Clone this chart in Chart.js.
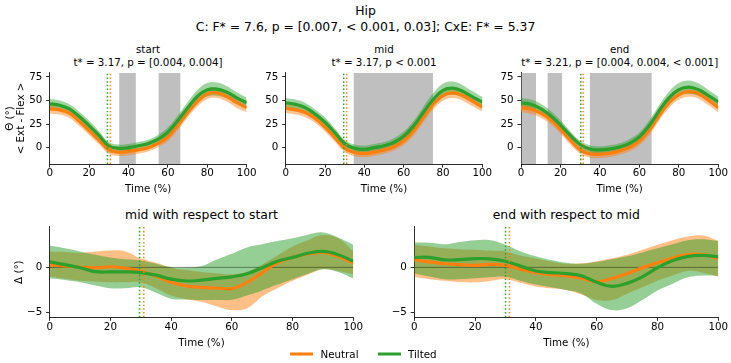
<!DOCTYPE html>
<html>
<head>
<meta charset="utf-8">
<script src="https://cdn.jsdelivr.net/npm/chart.js@4.4.1/dist/chart.umd.min.js"></script>
<style>
  body { margin: 0; width: 731px; height: 363px; background: #fff; position: relative; overflow: hidden;
         font-family: "DejaVu Sans", sans-serif; color: #000; }
  canvas { position: absolute; }
  .txt { position: absolute; white-space: nowrap; transform: translate(-50%, -50%); line-height: 1; }
  .leg { position: absolute; top: 354px; height: 3px; width: 23px; transform: translateY(-50%); }
  .legtxt { position: absolute; top: 354px; transform: translateY(-50%); font-size: 10.3px; line-height: 1; }
</style>
</head>
<body>
<div class="txt" style="left:365.5px;top:11px;font-size:12.4px">Hip</div>
<div class="txt" style="left:365.5px;top:27px;font-size:12.4px">C: F* = 7.6, p = [0.007, &lt; 0.001, 0.03]; CxE: F* = 5.37</div>

<div class="txt" style="left:148px;top:49px;font-size:10.3px">start</div>
<div class="txt" style="left:148px;top:62px;font-size:10.3px">t* = 3.17, p = [0.004, 0.004]</div>
<div class="txt" style="left:384px;top:49px;font-size:10.3px">mid</div>
<div class="txt" style="left:384px;top:62px;font-size:10.3px">t* = 3.17, p &lt; 0.001</div>
<div class="txt" style="left:619.7px;top:49px;font-size:10.3px">end</div>
<div class="txt" style="left:619.7px;top:62px;font-size:10.3px">t* = 3.21, p = [0.004, 0.004, &lt; 0.001]</div>

<div class="txt" style="left:201.5px;top:215px;font-size:12.4px">mid with respect to start</div>
<div class="txt" style="left:566.3px;top:215px;font-size:12.4px">end with respect to mid</div>

<canvas id="pStart"></canvas>
<canvas id="pMid"></canvas>
<canvas id="pEnd"></canvas>
<canvas id="pMidStart"></canvas>
<canvas id="pEndMid"></canvas>

<div class="leg" style="left:290px;background:#ff7f0e"></div>
<div class="legtxt" style="left:320.5px">Neutral</div>
<div class="leg" style="left:378px;background:#2ca02c"></div>
<div class="legtxt" style="left:408px">Tilted</div>

<script>
// time axis (% of cycle)
const time = [0, 5, 10, 15, 20, 25, 30, 35, 40, 45, 50, 55, 60, 65, 70, 75, 80, 85, 90, 95, 100];
const xTicks = [0, 20, 40, 60, 80, 100];
const angleTicks = [0, 25, 50, 75];
const deltaTicks = [-5, 0];

// joint angle, mean per condition
const neutralStart = [41, 40, 36.5, 28, 18, 8, -2.4, -4.8, -4, -2.4, 0, 4.5, 11.4, 23.4, 37, 49, 57, 58, 54, 47.6, 42.4];
const tiltedStart = [46.5, 45, 41, 33, 23.4, 13, 2, -0.7, 0, 2, 4.5, 9, 16.5, 28.6, 42, 54.5, 61.4, 62, 58.6, 52.7, 47.6];
const neutralMid = [41.7, 40, 37.2, 31, 21.7, 10.7, -0.7, -5.2, -6.2, -4.8, -2.4, 1, 7.2, 17.6, 31.7, 45.9, 55.2, 58, 55.2, 49.3, 43];
const tiltedMid = [47.6, 45.9, 42.4, 35.5, 26.9, 15.9, 4.5, -0.7, -1.7, 0, 2, 5.5, 12, 22.8, 37.2, 51, 60.7, 63, 59.7, 53.8, 48.3];
const neutralEnd = [42.4, 40.7, 36.6, 29.7, 19.3, 7.9, -2.4, -6.6, -6.9, -5.9, -3.4, 0.3, 6.9, 18.3, 33.8, 47.6, 56.2, 59.3, 57.2, 50.3, 42.4];
const tiltedEnd = [47.6, 45.9, 41.4, 33.8, 24, 13, 3.4, -1.4, -2.4, -1.4, 0.7, 4.5, 11.4, 23.4, 39, 52.8, 61.4, 64.1, 61.4, 55.2, 48.6];
// spread (sd) per condition
const neutralSd = [5, 5, 5, 5, 4.5, 4.5, 4, 4, 4, 4, 4, 4, 4.5, 5, 5, 5.5, 5.5, 5.5, 5.5, 5.5, 5];
const tiltedSd = [5, 5, 5, 5, 5, 4.5, 4, 4, 4, 4, 4, 4.5, 5, 5.5, 6, 6.5, 7, 7, 6.5, 6, 5.5];

// differences between phases, with bands
const neutralMS = [0.28, 0.15, 0.04, -0.04, 0.07, -0.1, -0.4, -0.94, -1.65, -2.05, -2.2, -2.27, -2.34, -1.65, -0.57, 0.5, 1.1, 1.47, 1.65, 1.22, 0.45];
const neutralMSUp = [1.76, 1.7, 1.6, 1.75, 1.87, 1.76, 0.97, 0.5, -0.04, -0.3, -0.5, -0.65, -0.75, -0.47, 0.32, 1.3, 2.3, 3.0, 3.56, 3.2, 1.76];
const neutralMSLo = [-1.04, -1.25, -1.47, -1.55, -1.65, -1.65, -1.65, -2.3, -3.1, -3.5, -3.8, -4.3, -4.7, -4.5, -3.2, -2.3, -1.47, -0.8, -0.2, -0.4, -0.75];
const tiltedMS = [0.61, 0.3, -0.04, -0.47, -0.5, -0.5, -0.57, -0.86, -1.3, -1.5, -1.4, -1.22, -1.04, -0.7, -0.04, 0.68, 1.1, 1.55, 1.76, 1.4, 0.68];
const tiltedMSUp = [2.4, 2.1, 1.76, 1.4, 1.1, 0.9, 0.75, 0.4, 0.03, 0.0, 0.14, 0.86, 1.5, 2.2, 2.55, 2.9, 3.2, 3.6, 3.85, 3.3, 2.5];
const tiltedMSLo = [-1.2, -1.4, -1.65, -2.0, -2.3, -2.3, -2.2, -2.8, -3.45, -3.55, -3.6, -3.6, -3.56, -3.1, -2.55, -1.9, -1.3, -0.7, -0.2, -0.5, -1.22];

const neutralEM = [0.83, 0.6, 0.4, 0.3, 0.22, 0.32, 0.22, -0.22, -0.58, -0.8, -0.94, -1.2, -1.58, -1.22, -0.68, -0.04, 0.5, 1.04, 1.4, 1.4, 0.97];
const neutralEMUp = [2.5, 2.3, 2.1, 2.0, 1.95, 1.85, 1.76, 1.3, 0.97, 0.65, 0.4, 0.45, 0.68, 1.0, 1.4, 1.95, 2.5, 3.0, 3.4, 3.5, 2.9];
const neutralEMLo = [-1.04, -1.3, -1.47, -1.6, -1.65, -1.5, -1.3, -1.7, -2.1, -2.3, -2.5, -3.0, -3.6, -3.6, -2.9, -2.2, -1.47, -0.9, -0.4, -0.6, -1.04];
const tiltedEM = [1.1, 1.1, 0.83, 0.86, 0.97, 0.94, 0.68, 0.14, -0.4, -0.58, -0.68, -0.94, -1.65, -2.1, -1.76, -1.04, -0.04, 0.75, 1.22, 1.33, 1.15];
const tiltedEMUp = [2.73, 2.7, 2.55, 2.8, 3.0, 3.0, 2.5, 1.76, 1.22, 0.8, 0.5, 0.4, 0.58, 0.9, 1.22, 1.65, 2.1, 2.55, 3.0, 3.1, 2.9];
const tiltedEMLo = [-0.68, -1.0, -1.3, -1.3, -1.2, -1.1, -1.04, -1.5, -1.9, -2.2, -2.5, -2.9, -4.0, -4.7, -4.5, -3.6, -2.55, -1.8, -1.1, -0.9, -0.94];

// event onsets (% of cycle), per panel: start, mid, end, mid-start, end-mid
const neutralOnset = [30.8, 31, 31.5, 31, 31.3];
const tiltedOnset = [29.3, 29.5, 30.3, 29.6, 30];

// significant clusters
const clustersStart = [[35.3, 43.7], [55.3, 66.3]];
const clustersMid = [[34.6, 74.9]];
const clustersEnd = [[0, 7.6], [13.5, 20.8], [34.9, 66.2]];

const NEUTRAL = '#ff7f0e';
const TILTED = '#2ca02c';

Chart.defaults.font.family = '"DejaVu Sans", sans-serif';
Chart.defaults.font.size = 10.3;
Chart.defaults.color = '#000';

const pts = ys => time.map((x, i) => ({ x, y: ys[i] }));

function band(lo, hi, color, order) {
  return [
    { data: pts(hi), borderWidth: 0, pointRadius: 0, fill: false, order },
    { data: pts(lo), borderWidth: 0, pointRadius: 0, fill: '-1', backgroundColor: color, order },
  ];
}
const meanLine = (ys, color, order) => ({ data: pts(ys), borderColor: color, borderWidth: 3.2, pointRadius: 0, fill: false, order });
const onsetLine = (x, yMin, yMax, color) => ({
  data: [{ x, y: yMin }, { x, y: yMax }], borderColor: color, borderWidth: 1.5,
  borderDash: [1.5, 2.2], pointRadius: 0, fill: false, order: 0,
});

const clusterPlugin = {
  id: 'clusters',
  beforeDatasetsDraw(chart, args, opts) {
    const { ctx, chartArea: a, scales: { x } } = chart;
    ctx.save();
    ctx.fillStyle = 'rgba(128,128,128,0.5)';
    (opts.list || []).forEach(([s, e]) => {
      const x0 = x.getPixelForValue(s);
      const x1 = x.getPixelForValue(e);
      ctx.fillRect(x0, a.top, x1 - x0, a.bottom - a.top);
    });
    ctx.restore();
  },
};

const minus = v => (v < 0 ? '\u2212' + Math.abs(v) : String(v));

function makePanel(id, area, yMin, yMax, yTicks, yTitle, titleX, datasets, clusters) {
  const c = document.getElementById(id);
  const left = Math.floor(area.l) - 46;
  const top = Math.floor(area.t) - 8;
  const w = Math.ceil(area.r) + 14 - left;
  const h = Math.ceil(area.b + 32) - top;
  c.width = w; c.height = h;
  c.style.left = left + 'px'; c.style.top = top + 'px';
  const yWidth = area.l - left;
  const lh = 10.3 * 1.1;

  return new Chart(c, {
    type: 'line',
    data: { datasets },
    options: {
      responsive: false, animation: false, devicePixelRatio: 1,
      layout: { padding: { top: area.t - top, right: left + w - area.r, bottom: top + h - area.b - 32, left: 0 } },
      elements: { line: { tension: 0.4 } },
      plugins: { legend: { display: false }, tooltip: { enabled: false }, clusters: { list: clusters } },
      scales: {
        x: {
          type: 'linear', min: 0, max: 100,
          afterBuildTicks: s => { s.ticks = xTicks.map(v => ({ value: v })); },
          afterFit: s => { s.height = 32; },
          ticks: { autoSkip: false, maxRotation: 0, padding: 0, color: '#000' },
          grid: { display: true, drawOnChartArea: false, drawTicks: true, tickLength: 3.6, color: '#000', lineWidth: 0.83 },
          border: { display: true, color: '#000', width: 0.83 },
          title: { display: true, text: 'Time (%)', padding: { top: 0, bottom: 0 }, color: '#000' },
        },
        y: {
          type: 'linear', min: yMin, max: yMax,
          afterBuildTicks: s => { s.ticks = yTicks.map(v => ({ value: v })); },
          afterFit: s => { s.width = yWidth; },
          ticks: { padding: 3.8, color: '#000', callback: v => minus(v) },
          grid: { display: true, drawOnChartArea: false, drawTicks: true, tickLength: 3.6, color: '#000', lineWidth: 0.83 },
          border: { display: true, color: '#000', width: 0.83 },
          title: yTitle ? { display: true, text: yTitle, color: '#000',
                            font: { lineHeight: 1.1 }, padding: { top: titleX - left - lh / 2, bottom: 0 } }
                        : { display: false },
        },
      },
    },
    plugins: [clusterPlugin],
  });
}

const sdUp = (m, sd) => m.map((v, i) => v + sd[i]);
const sdLo = (m, sd) => m.map((v, i) => v - sd[i]);

function anglePanel(id, area, neutral, tilted, k, yTitle, clusters) {
  const yMin = -17.3, yMax = 79.1;
  const ds = [
    ...band(sdLo(neutral, neutralSd), sdUp(neutral, neutralSd), 'rgba(255,127,14,0.45)', 5),
    ...band(sdLo(tilted, tiltedSd), sdUp(tilted, tiltedSd), 'rgba(44,160,44,0.45)', 4),
    meanLine(neutral, NEUTRAL, 2),
    meanLine(tilted, TILTED, 1),
    onsetLine(neutralOnset[k], yMin, yMax, NEUTRAL),
    onsetLine(tiltedOnset[k], yMin, yMax, TILTED),
  ];
  makePanel(id, area, yMin, yMax, angleTicks, yTitle, 10, ds, clusters);
}

function deltaPanel(id, area, n, nUp, nLo, t, tUp, tLo, k, yTitle) {
  const yMin = -5.5, yMax = 4.45;
  const ds = [
    ...band(nLo, nUp, 'rgba(255,127,14,0.5)', 5),
    ...band(tLo, tUp, 'rgba(44,160,44,0.5)', 4),
    { data: [{ x: 0, y: 0 }, { x: 100, y: 0 }], borderColor: 'rgba(0,0,0,0.4)', borderWidth: 1, pointRadius: 0, fill: false, order: 3 },
    meanLine(n, NEUTRAL, 2),
    meanLine(t, TILTED, 1),
    onsetLine(neutralOnset[k], yMin, yMax, NEUTRAL),
    onsetLine(tiltedOnset[k], yMin, yMax, TILTED),
  ];
  makePanel(id, area, yMin, yMax, deltaTicks, yTitle, 19, ds, []);
}

anglePanel('pStart', { l: 49.7, r: 246.7, t: 71, b: 164 }, neutralStart, tiltedStart, 0, ['\u0398 (\u00b0)', '< Ext - Flex >'], clustersStart);
anglePanel('pMid', { l: 285.7, r: 482.3, t: 71, b: 164 }, neutralMid, tiltedMid, 1, null, clustersMid);
anglePanel('pEnd', { l: 521, r: 718.3, t: 71, b: 164 }, neutralEnd, tiltedEnd, 2, null, clustersEnd);

deltaPanel('pMidStart', { l: 49.7, r: 353.3, t: 225, b: 317.3 }, neutralMS, neutralMSUp, neutralMSLo, tiltedMS, tiltedMSUp, tiltedMSLo, 3, '\u0394 (\u00b0)');
deltaPanel('pEndMid', { l: 414.3, r: 718.3, t: 225, b: 317.3 }, neutralEM, neutralEMUp, neutralEMLo, tiltedEM, tiltedEMUp, tiltedEMLo, 4, null);
</script>
</body>
</html>
